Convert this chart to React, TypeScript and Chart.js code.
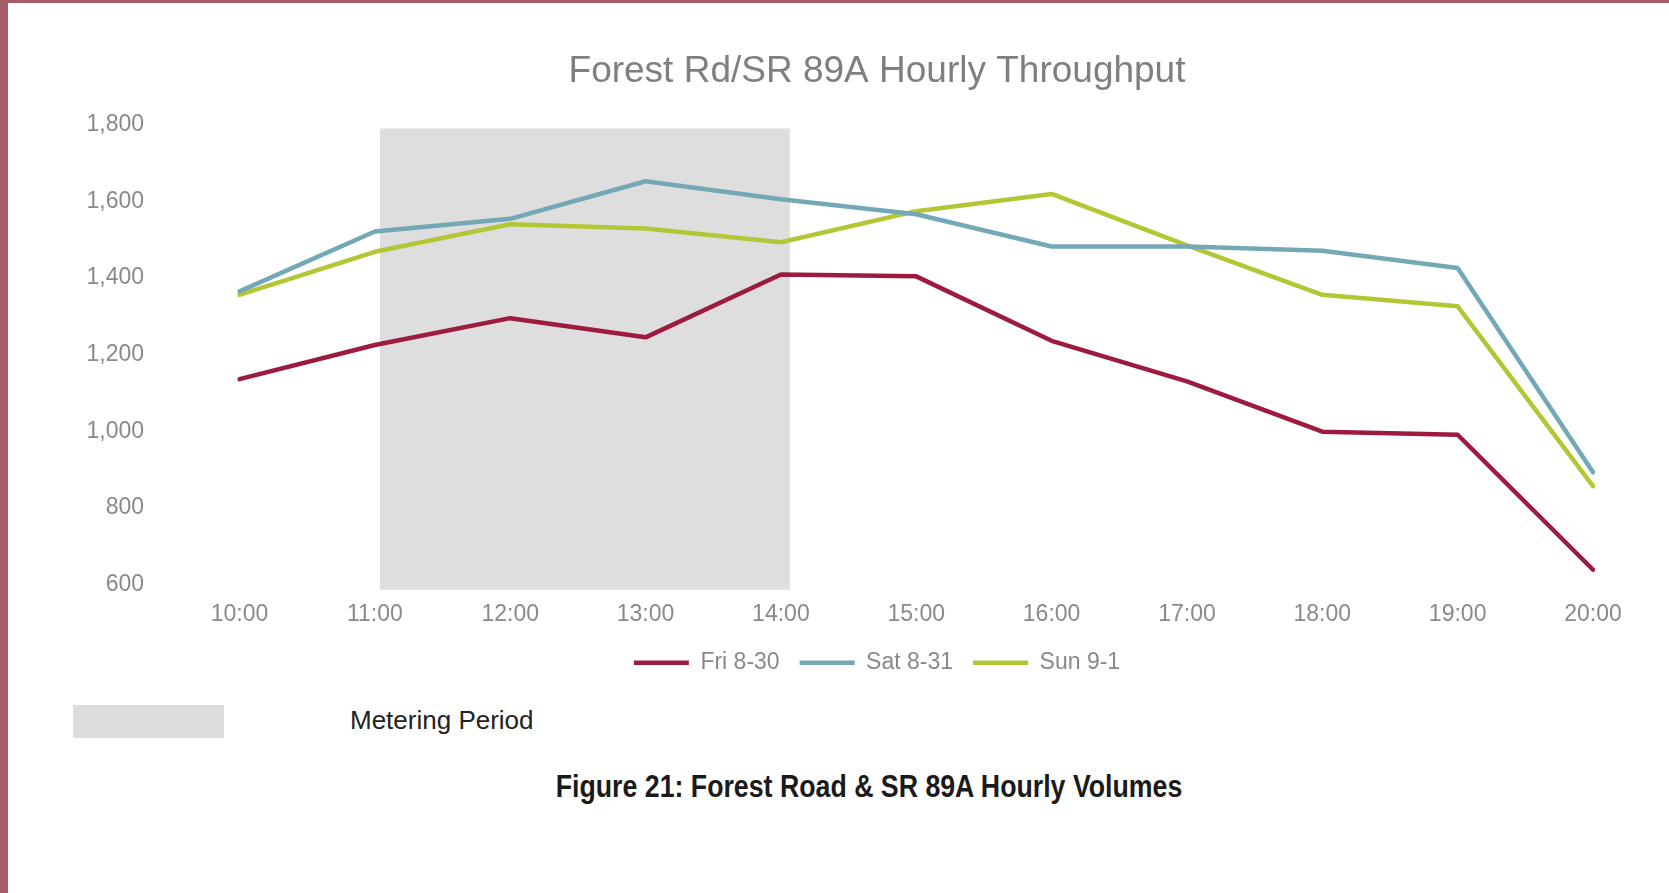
import { useEffect, useRef } from "react";
import { Chart, registerables } from "chart.js";

Chart.register(...registerables);

const categories = ["10:00", "11:00", "12:00", "13:00", "14:00", "15:00", "16:00", "17:00", "18:00", "19:00", "20:00"];
const friValues = [1136, 1225, 1295, 1245, 1409, 1404, 1236, 1130, 999, 991, 639];
const satValues = [1365, 1521, 1554, 1652, 1605, 1566, 1482, 1482, 1471, 1426, 893];
const sunValues = [1356, 1468, 1540, 1529, 1493, 1574, 1619, 1485, 1356, 1326, 857];
const seriesNames = ["Fri 8-30", "Sat 8-31", "Sun 9-1"];
const meteringStart = "11:00";
const meteringEnd = "14:00";
const yMin = 600;
const yMax = 1800;
const yStep = 200;

const FONT = "'Liberation Sans', Arial, sans-serif";
const GRAY = "#898989";
const CANVAS_W = 1754;
const CANVAS_H = 694;

export default function App() {
  const ref = useRef<HTMLCanvasElement>(null);

  useEffect(() => {
    const shade = {
      id: "meteringShade",
      beforeDatasetsDraw(chart: any) {
        const { ctx, chartArea, scales } = chart;
        const xs = scales.x;
        const x1 = xs.getPixelForValue(categories.indexOf(meteringStart)) + 5;
        const x2 = xs.getPixelForValue(categories.indexOf(meteringEnd)) + 9;
        ctx.save();
        ctx.fillStyle = "#dedede";
        ctx.fillRect(x1, chartArea.top + 4, x2 - x1, chartArea.bottom - chartArea.top + 1);
        ctx.restore();
      },
    };

    const mk = (label: string, data: number[], color: string) => ({
      label,
      data,
      borderColor: color,
      backgroundColor: color,
      borderWidth: 4.5,
      pointRadius: 0,
      pointHoverRadius: 0,
      tension: 0,
      fill: false,
      borderJoinStyle: "round" as const,
      borderCapStyle: "round" as const,
    });

    const chart = new Chart(ref.current as HTMLCanvasElement, {
      type: "line",
      data: {
        labels: categories,
        datasets: [
          mk(seriesNames[0], friValues, "#9e1b40"),
          mk(seriesNames[1], satValues, "#73a8b6"),
          mk(seriesNames[2], sunValues, "#b3c636"),
        ],
      },
      options: {
        animation: false,
        responsive: false,
        devicePixelRatio: 1,
        layout: { padding: { left: 0, right: 0, top: 0, bottom: 0 } },
        plugins: {
          title: {
            display: true,
            text: "Forest Rd/SR 89A Hourly Throughput",
            color: "#7f7f7f",
            font: { family: FONT, size: 37, weight: "normal" },
            padding: { top: 49.8, bottom: 30.3 },
          },
          legend: {
            position: "bottom",
            labels: {
              usePointStyle: true,
              pointStyle: "line",
              pointStyleWidth: 55,
              color: GRAY,
              font: { family: FONT, size: 23 },
              padding: 20,
            },
          },
          tooltip: { enabled: false },
        },
        scales: {
          x: {
            grid: { display: false, drawTicks: false },
            border: { display: false },
            ticks: { color: GRAY, font: { family: FONT, size: 23 }, padding: 16.5, maxRotation: 0, autoSkip: false },
            afterFit: (s: any) => {
              s.height -= 14;
            },
          },
          y: {
            min: yMin,
            max: yMax,
            grid: { display: false, drawTicks: false },
            border: { display: false },
            ticks: {
              stepSize: yStep,
              color: GRAY,
              font: { family: FONT, size: 23 },
              padding: 95.5,
              callback: (v: any) => Number(v).toLocaleString("en-US"),
            },
            afterFit: (s: any) => {
              s.width = 239.5;
            },
          },
          yRightSpace: {
            position: "right",
            min: yMin,
            max: yMax,
            grid: { display: false, drawTicks: false },
            border: { display: false },
            ticks: { display: false },
            afterFit: (s: any) => {
              s.width = 161;
            },
          },
        },
      },
      plugins: [shade],
    });
    return () => chart.destroy();
  }, []);

  return (
    <div style={{ position: "fixed", left: 0, top: 0, width: 1669, height: 893, background: "#fff", overflow: "hidden" }}>
      <canvas
        ref={ref}
        width={CANVAS_W}
        height={CANVAS_H}
        style={{ position: "absolute", left: 0, top: 0, width: CANVAS_W, height: CANVAS_H }}
      />
      <div style={{ position: "absolute", left: 0, top: 0, width: 8, height: 893, background: "#a65c66" }} />
      <div style={{ position: "absolute", left: 0, top: 0, width: 1669, height: 3, background: "#a65c66" }} />
      <div style={{ position: "absolute", left: 73, top: 705, width: 151, height: 33, background: "#dddddd" }} />
      <div
        style={{
          position: "absolute",
          left: 350,
          top: 704,
          height: 32,
          lineHeight: "32px",
          fontFamily: FONT,
          fontSize: 26,
          color: "#222",
          whiteSpace: "nowrap",
        }}
      >
        Metering Period
      </div>
      <div
        style={{
          position: "absolute",
          left: 369,
          width: 1000,
          top: 768,
          height: 36,
          lineHeight: "36px",
          textAlign: "center",
          fontFamily: FONT,
          fontWeight: "bold",
          fontSize: 32,
          color: "#1a1a1a",
          whiteSpace: "nowrap",
          transform: "scaleX(0.835)",
          transformOrigin: "50% 50%",
        }}
      >
        Figure 21: Forest Road &amp; SR 89A Hourly Volumes
      </div>
    </div>
  );
}
